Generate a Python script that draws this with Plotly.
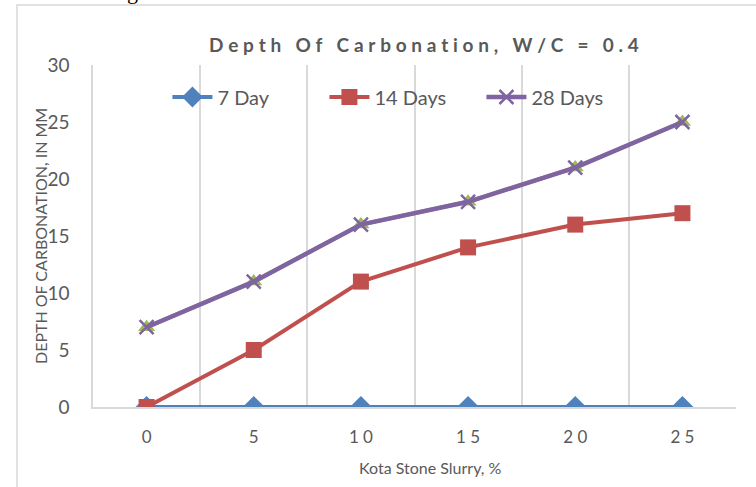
import plotly.graph_objects as go

slurry = ["0", "5", "10", "15", "20", "25"]
tick_text = ["0", "5", "1\u20050", "1\u20055", "2\u20050", "2\u20055"]
day7 = [0, 0, 0, 0, 0, 0]
day14 = [0, 5, 11, 14, 16, 17]
day21 = [7, 11, 16, 18, 21, 25]
day28 = [7, 11, 16, 18, 21, 25]
y_ticks = [0, 5, 10, 15, 20, 25, 30]

title_text = "Depth Of Carbonation, W/C = 0.4"
SP = "\u2005"
spaced_title = SP.join(list(title_text)).replace(SP + " " + SP, SP * 3)

FONT = "Lato"
TXT = "#595959"

W, H = 756, 487
L, R, T, B = 93, 20, 65, 80
PW, PH = W - L - R, H - T - B

def px_x(p):
    return (p - L) / PW

def px_y(p):
    return 1 - (p - T) / PH

fig = go.Figure()
fig.add_trace(go.Scatter(x=slurry, y=day7, name="7 Day", mode="lines+markers",
                         line=dict(color="#4F81BD", width=4),
                         marker=dict(symbol="diamond", size=17, color="#4F81BD")))
fig.add_trace(go.Scatter(x=slurry, y=day14, name="14 Days", mode="lines+markers",
                         line=dict(color="#C0504D", width=4),
                         marker=dict(symbol="square", size=16, color="#C0504D")))
fig.add_trace(go.Scatter(x=slurry, y=day21, name="21 Days", mode="lines+markers",
                         showlegend=False,
                         line=dict(color="#9BBB59", width=4),
                         marker=dict(symbol="triangle-up", size=15, color="#9BBB59")))
fig.add_trace(go.Scatter(x=slurry, y=day28, name="28 Days", mode="lines+markers",
                         line=dict(color="#8064A2", width=4.5),
                         marker=dict(symbol="x-thin", size=14,
                                     line=dict(color="#8064A2", width=2.5))))

bx0, by1 = px_x(17), px_y(5)
bx1, by0 = px_x(756), px_y(487)

fig.update_layout(
    width=W, height=H,
    margin=dict(l=L, r=R, t=T, b=B),
    paper_bgcolor="white", plot_bgcolor="white",
    font=dict(family=FONT, color=TXT),
    showlegend=True,
    legend=dict(orientation="h", x=0.482, xanchor="center", y=px_y(97), yanchor="middle",
                font=dict(size=20, color=TXT, family=FONT), bgcolor="rgba(0,0,0,0)",
                itemwidth=40, traceorder="normal", entrywidth=102, entrywidthmode="pixels"),
    xaxis=dict(type="category", range=[-0.5, 5.5], tickson="boundaries",
               showgrid=True, gridcolor="#d9d9d9", gridwidth=1.5,
               showline=True, linecolor="#d9d9d9", linewidth=1.5,
               ticks="", tickvals=slurry, ticktext=tick_text,
               tickfont=dict(size=17, color=TXT, family=FONT), ticklabelstandoff=14,
               zeroline=False, fixedrange=True),
    yaxis=dict(range=[0, 30], tickvals=y_ticks, showgrid=False, zeroline=False,
               showline=True, mirror=False, linecolor="#d9d9d9", linewidth=1.5,
               ticks="", tickfont=dict(size=19, color=TXT, family=FONT),
               ticklabelstandoff=18, fixedrange=True),
    annotations=[
        dict(text="<b>" + spaced_title + "</b>", xref="paper", yref="paper",
             x=px_x(424), y=px_y(44), xanchor="center", yanchor="middle",
             showarrow=False, font=dict(size=19, color=TXT, family=FONT)),
        dict(text="DEPTH OF CARBONATION, IN MM", xref="paper", yref="paper",
             x=px_x(40), y=px_y(236), xanchor="center", yanchor="middle",
             textangle=-90, showarrow=False, font=dict(size=16, color=TXT, family=FONT)),
        dict(text="Kota Stone Slurry, %", xref="paper", yref="paper",
             x=px_x(430), y=px_y(467), xanchor="center", yanchor="middle",
             showarrow=False, font=dict(size=16, color=TXT, family=FONT)),
        dict(text="g", xref="paper", yref="paper",
             x=px_x(132), y=px_y(-9), xanchor="center", yanchor="middle",
             showarrow=False, font=dict(size=22, color="black", family="Liberation Serif")),
    ],
    shapes=[
        dict(type="path", xref="paper", yref="paper",
             path=f"M {bx0},{by0} L {bx0},{by1} L {bx1},{by1}",
             line=dict(color="#d9d9d9", width=1.5), layer="below"),
    ],
)

fig.write_html("out.html", post_script="document.body.style.margin='0';document.body.style.overflow='hidden';",
               config={"displayModeBar": False})
